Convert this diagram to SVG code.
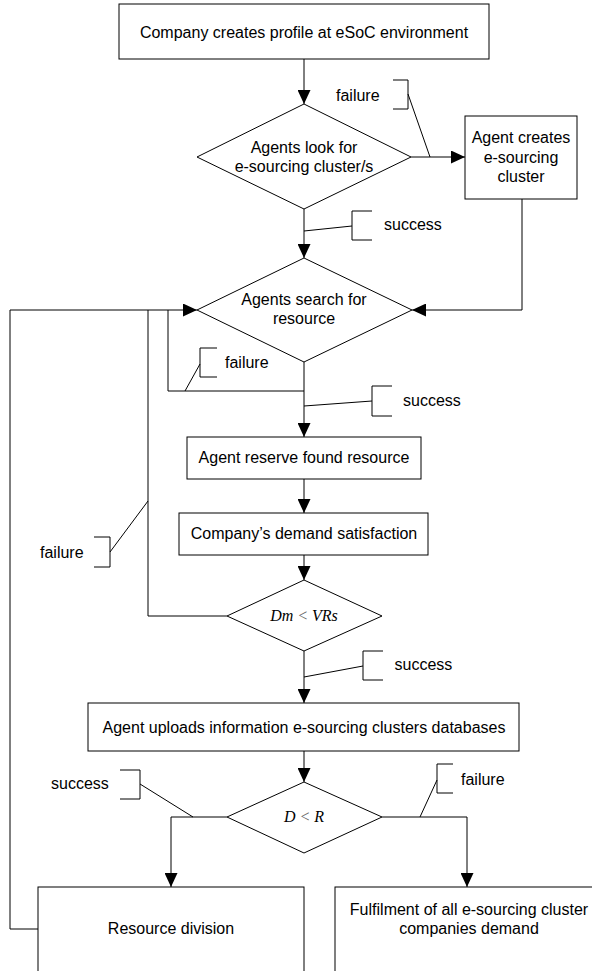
<svg xmlns="http://www.w3.org/2000/svg" width="592" height="971" viewBox="0 0 592 971">
<style>
.box{fill:#fff;stroke:#000;stroke-width:1}
.ln{fill:none;stroke:#000;stroke-width:1}
.t{font-family:"Liberation Sans",Arial,sans-serif;font-size:16px;fill:#000}
.c{text-anchor:middle}
.m{font-family:"Liberation Serif","Times New Roman",serif;font-style:italic;font-size:16px;text-anchor:middle;fill:#000}
.lt{fill:#666}
</style>
<defs>
<marker id="ah" markerWidth="14" markerHeight="13" refX="14" refY="6.5" orient="auto" markerUnits="userSpaceOnUse">
<path d="M0,0 L14,6.5 L0,13 z" fill="#000"/>
</marker>
</defs>
<rect width="592" height="971" fill="#fff"/>
<g id="connectors">
<line class="ln" x1="304" y1="59" x2="304" y2="104" marker-end="url(#ah)"/>
<line class="ln" x1="411" y1="157" x2="465" y2="157" marker-end="url(#ah)"/>
<line class="ln" x1="304" y1="209" x2="304" y2="258" marker-end="url(#ah)"/>
<polyline class="ln" points="522,199 522,310 412,310" marker-end="url(#ah)"/>
<line class="ln" x1="304" y1="362" x2="304" y2="437" marker-end="url(#ah)"/>
<polyline class="ln" points="304,391 168,391 168,310"/>
<polyline class="ln" points="38,929 10,929 10,310 197,310" marker-end="url(#ah)"/>
<polyline class="ln" points="227,616 148,616 148,310"/>
<line class="ln" x1="304" y1="479" x2="304" y2="513" marker-end="url(#ah)"/>
<line class="ln" x1="304" y1="555" x2="304" y2="580" marker-end="url(#ah)"/>
<line class="ln" x1="304" y1="651" x2="304" y2="703" marker-end="url(#ah)"/>
<line class="ln" x1="304" y1="751" x2="304" y2="782" marker-end="url(#ah)"/>
<polyline class="ln" points="227,817 171,817 171,887" marker-end="url(#ah)"/>
<polyline class="ln" points="382,817 467,817 467,887" marker-end="url(#ah)"/>
</g>
<g id="labels">
<g id="lbl-failure-1">
<path class="ln" d="M393,80 H408 V109 H393 M408,94 L430,157"/>
<text class="t" x="336" y="101">failure</text>
</g>
<g id="lbl-success-1">
<path class="ln" d="M372,211 H352 V240 H372 M352,226 L304,231"/>
<text class="t" x="384" y="230">success</text>
</g>
<g id="lbl-failure-2">
<path class="ln" d="M217,348 H200 V377 H217 M200,364 L185,391"/>
<text class="t" x="225" y="368">failure</text>
</g>
<g id="lbl-success-2">
<path class="ln" d="M392,386 H372 V416 H392 M372,401 L304,406"/>
<text class="t" x="403" y="406">success</text>
</g>
<g id="lbl-failure-3">
<path class="ln" d="M94,537 H110 V567 H94 M110,552 L148,501"/>
<text class="t" x="40" y="558">failure</text>
</g>
<g id="lbl-success-3">
<path class="ln" d="M383,651 H363 V680 H383 M363,666 L304,677"/>
<text class="t" x="394.5" y="670">success</text>
</g>
<g id="lbl-success-4">
<path class="ln" d="M120,770 H140 V799 H120 M140,784 L193,817"/>
<text class="t" x="51" y="789">success</text>
</g>
<g id="lbl-failure-4">
<path class="ln" d="M453,764 H437 V793 H453 M437,780 L420,817"/>
<text class="t" x="461" y="785">failure</text>
</g>
</g>
<g id="n1">
<rect class="box" x="119" y="4" width="370" height="55"/>
<text class="t c" x="304" y="38">Company creates profile at eSoC environment</text>
</g>
<g id="n2">
<polygon class="box" points="304,104 411,157 304,209 197,157"/>
<text class="t c" x="304" y="153">Agents look for</text>
<text class="t c" x="304" y="172">e-sourcing cluster/s</text>
</g>
<g id="n3">
<rect class="box" x="465" y="116" width="112" height="83"/>
<text class="t c" x="521" y="143">Agent creates</text>
<text class="t c" x="521" y="162.5">e-sourcing</text>
<text class="t c" x="521" y="182">cluster</text>
</g>
<g id="n4">
<polygon class="box" points="304,258 412,310 304,362 197,310"/>
<text class="t c" x="304" y="305">Agents search for</text>
<text class="t c" x="304" y="323.5">resource</text>
</g>
<g id="n5">
<rect class="box" x="187" y="437" width="234" height="42"/>
<text class="t c" x="304" y="463">Agent reserve found resource</text>
</g>
<g id="n6">
<rect class="box" x="179" y="513" width="249" height="42"/>
<text class="t c" x="304" y="539">Company’s demand satisfaction</text>
</g>
<g id="n7">
<polygon class="box" points="304,580 382,616 304,651 227,616"/>
<text class="m" x="304" y="621">Dm <tspan class="lt">&lt;</tspan> VRs</text>
</g>
<g id="n8">
<rect class="box" x="88" y="703" width="431" height="48"/>
<text class="t c" x="304" y="733">Agent uploads information e-sourcing clusters databases</text>
</g>
<g id="n9">
<polygon class="box" points="304,782 382,817 304,853 227,817"/>
<text class="m" x="304" y="822">D <tspan class="lt">&lt;</tspan> R</text>
</g>
<g id="n10">
<rect class="box" x="38" y="887" width="266" height="100"/>
<text class="t c" x="171" y="934">Resource division</text>
</g>
<g id="n11">
<rect class="box" x="335" y="887" width="266" height="100"/>
<text class="t c" x="469" y="915">Fulfilment of all e-sourcing cluster</text>
<text class="t c" x="469" y="934">companies demand</text>
</g>
</svg>
